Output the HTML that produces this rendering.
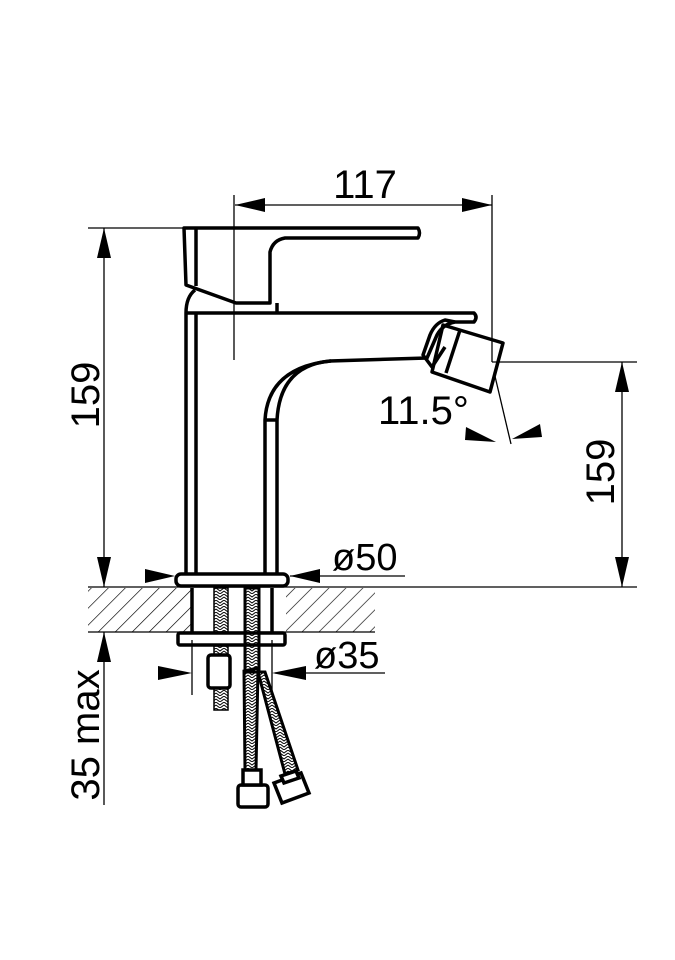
<!DOCTYPE html>
<html><head><style>html,body{margin:0;padding:0;background:#fff}svg{display:block}</style></head>
<body>
<svg width="675" height="960" viewBox="0 0 675 960" xmlns="http://www.w3.org/2000/svg">
<defs>
<pattern id="h" patternUnits="userSpaceOnUse" width="12" height="12" patternTransform="rotate(45)">
<line x1="0" y1="0" x2="0" y2="12" stroke="#000" stroke-width="1.3"/>
</pattern>
<pattern id="br" patternUnits="userSpaceOnUse" width="8" height="6">
<path d="M0 0 L4 3 L8 0 M0 3 L4 6 L8 3" stroke="#000" stroke-width="1" fill="none"/>
</pattern>
</defs>
<g font-family="Liberation Sans Narrow, Liberation Sans, sans-serif" fill="#000">
<rect x="88" y="588" width="103" height="44" fill="url(#h)"/>
<rect x="286" y="588" width="89" height="44" fill="url(#h)"/>
<g stroke="#000" stroke-width="1.3" fill="none">
<line x1="88" y1="587" x2="637" y2="587"/>
<line x1="88" y1="632" x2="375" y2="632"/>
<line x1="235" y1="205" x2="492" y2="205"/>
<line x1="234" y1="195" x2="234" y2="360"/>
<line x1="492" y1="195" x2="492" y2="362"/>
<line x1="492" y1="362" x2="637" y2="362"/>
<line x1="88" y1="228" x2="185" y2="228"/>
<line x1="104" y1="228" x2="104" y2="587"/>
<line x1="622" y1="362" x2="622" y2="587"/>
<line x1="104" y1="632" x2="104" y2="805"/>
<line x1="290" y1="576" x2="405" y2="576"/>
<line x1="192" y1="640" x2="192" y2="695"/>
<line x1="272" y1="640" x2="272" y2="695"/>
<line x1="275" y1="673" x2="385" y2="673"/>
<line x1="494" y1="372" x2="511" y2="444"/>
</g>
<polygon points="235,205 265,198 265,212"/>
<polygon points="492,205 462,198 462,212"/>
<polygon points="104,228 97,258 111,258"/>
<polygon points="104,587 97,557 111,557"/>
<polygon points="622,362 615,392 629,392"/>
<polygon points="622,587 615,557 629,557"/>
<polygon points="104,632 97,662 111,662"/>
<polygon points="175,576 145,569 145,583"/>
<polygon points="290,576 320,569 320,583"/>
<polygon points="192,673 158,666 158,680"/>
<polygon points="272,673 306,666 306,680"/>
<polygon points="496,442 466,427 465,440"/>
<polygon points="512,439 540,424 542,437"/>
<text x="365" y="198" font-size="40" text-anchor="middle">117</text>
<text transform="translate(99,395) rotate(-90)" font-size="40" text-anchor="middle">159</text>
<text transform="translate(614,472) rotate(-90)" font-size="40" text-anchor="middle">159</text>
<text transform="translate(99,735) rotate(-90)" font-size="40" text-anchor="middle">35 max</text>
<text x="332" y="570" font-size="38">ø50</text>
<text x="314" y="668" font-size="38">ø35</text>
<text x="378" y="424" font-size="40">11.5°</text>
<g stroke="#000" stroke-width="3.5" fill="none" stroke-linejoin="round">
<path d="M184,228 L418,228 Q421,233 418,238 L285,238 Q273,240 270,252 L270,303 L236,303 L186,285 Z"/>
<line x1="196" y1="229" x2="196" y2="286"/>
<line x1="277" y1="303" x2="277" y2="313"/>
<path d="M186,313 L474,313 Q478,317 474,322 L455,322 Q443,324 437,335 L427,358 L330,361 Q268,368 265,420 L265,573"/>
<path d="M186,313 Q186,297 195,290"/>
<path d="M265,420 L277,420"/>
<line x1="186" y1="313" x2="186" y2="573"/>
<line x1="196" y1="313" x2="196" y2="573"/>
<line x1="277" y1="420" x2="277" y2="573"/>
<path d="M331,361 Q280,365 277,420"/>
<path d="M455,322 L445,320 Q435,323 430,335 L423,355 L432,367 L445,347"/>
<path d="M443,325 L503,343 L490,392 L432,372 Z"/>
<line x1="460" y1="330" x2="446" y2="373"/>
<rect x="176" y="574" width="112" height="12" rx="5"/>
<rect x="178" y="633" width="107" height="12" rx="2"/>
<line x1="192" y1="588" x2="192" y2="632"/>
<line x1="272" y1="588" x2="272" y2="632"/>
<rect x="208" y="655" width="22" height="33" rx="3"/>
</g>
<rect x="214" y="588" width="14" height="44" fill="url(#br)" stroke="#000" stroke-width="1.5"/>
<rect x="214" y="646" width="14" height="9" fill="url(#br)" stroke="#000" stroke-width="1.5"/>
<rect x="214" y="688" width="14" height="22" fill="url(#br)" stroke="#000" stroke-width="1.5"/>
<rect x="245" y="588" width="14" height="84" fill="url(#br)" stroke="#000" stroke-width="3"/>
<path d="M244,671 L258,668 L256,770 L245,770 Z" fill="url(#br)" stroke="#000" stroke-width="3"/>
<path d="M258,672 L265,672 L298,770 L285,774 Z" fill="url(#br)" stroke="#000" stroke-width="3"/>
<g stroke="#000" stroke-width="3.5" fill="#fff">
<rect x="238" y="785" width="30" height="22" rx="3"/>
<rect x="243" y="770" width="18" height="15"/>
<path d="M274,783 L301,773 L309,793 L282,803 Z"/>
<path d="M281,776 L296,771 L299,778 L284,783 Z"/>
</g>
</g>
</svg>
</body></html>
